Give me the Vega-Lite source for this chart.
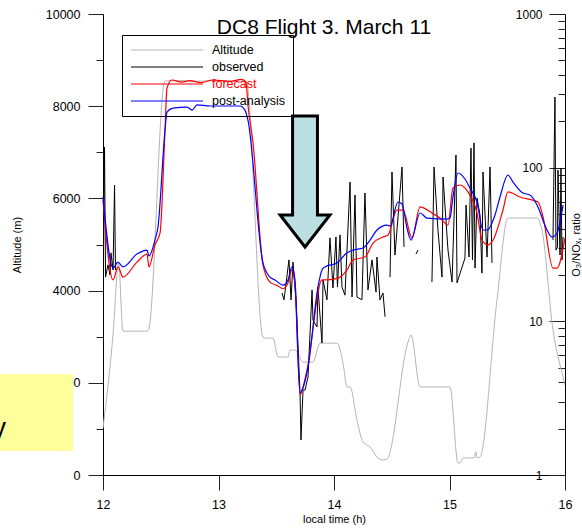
{
  "$schema": "https://vega.github.io/schema/vega-lite/v6.json",
  "width": 462,
  "height": 461,
  "autosize": {"type": "none"},
  "padding": {"left": 103, "top": 14, "right": 17, "bottom": 53},
  "config": {
    "view": {"stroke": null},
    "font": "Liberation Sans",
    "axis": {"domainColor": "black", "tickColor": "#222", "labelColor": "black", "titleColor": "black", "labelFontSize": 12.5, "titleFontSize": 11, "titleFontWeight": "normal", "grid": false, "labelFont": "Liberation Sans", "titleFont": "Liberation Sans"}
  },
  "title": {"text": "DC8 Flight 3. March 11", "fontSize": 21, "fontWeight": "normal", "color": "black", "font": "Liberation Sans", "anchor": "middle", "dx": -10, "offset": -47, "baseline": "alphabetic"},
  "datasets": {
    "box": [{"t1": 10.5, "t2": 11.74, "a1": 521, "a2": 2191}],
    "note": [{"t": 11.160, "a": 824, "txt": "y"}],
    "arrow": [{"t": 13.749, "a": 6367}],
    "alt": [
      {"t": 12.000, "alt": 1020, "series": "Altitude"},
      {"t": 12.087, "alt": 3050, "series": "Altitude"},
      {"t": 12.135, "alt": 4600, "series": "Altitude"},
      {"t": 12.173, "alt": 3120, "series": "Altitude"},
      {"t": 12.381, "alt": 3120, "series": "Altitude"},
      {"t": 12.395, "alt": 3150, "series": "Altitude"},
      {"t": 12.535, "alt": 8546, "series": "Altitude"},
      {"t": 12.65, "alt": 8560, "series": "Altitude"},
      {"t": 12.80, "alt": 8540, "series": "Altitude"},
      {"t": 12.95, "alt": 8555, "series": "Altitude"},
      {"t": 13.10, "alt": 8545, "series": "Altitude"},
      {"t": 13.240, "alt": 8546, "series": "Altitude"},
      {"t": 13.385, "alt": 2990, "series": "Altitude"},
      {"t": 13.411, "alt": 2970, "series": "Altitude"},
      {"t": 13.472, "alt": 2970, "series": "Altitude"},
      {"t": 13.515, "alt": 2560, "series": "Altitude"},
      {"t": 13.602, "alt": 2560, "series": "Altitude"},
      {"t": 13.619, "alt": 2710, "series": "Altitude"},
      {"t": 13.662, "alt": 2710, "series": "Altitude"},
      {"t": 13.732, "alt": 2450, "series": "Altitude"},
      {"t": 13.818, "alt": 2450, "series": "Altitude"},
      {"t": 13.879, "alt": 2860, "series": "Altitude"},
      {"t": 14.026, "alt": 2860, "series": "Altitude"},
      {"t": 14.078, "alt": 2430, "series": "Altitude"},
      {"t": 14.113, "alt": 1910, "series": "Altitude"},
      {"t": 14.139, "alt": 1910, "series": "Altitude"},
      {"t": 14.199, "alt": 1190, "series": "Altitude"},
      {"t": 14.251, "alt": 716, "series": "Altitude"},
      {"t": 14.312, "alt": 607, "series": "Altitude"},
      {"t": 14.381, "alt": 369, "series": "Altitude"},
      {"t": 14.424, "alt": 325, "series": "Altitude"},
      {"t": 14.459, "alt": 347, "series": "Altitude"},
      {"t": 14.641, "alt": 2885, "series": "Altitude"},
      {"t": 14.667, "alt": 3037, "series": "Altitude"},
      {"t": 14.745, "alt": 1910, "series": "Altitude"},
      {"t": 15.004, "alt": 1910, "series": "Altitude"},
      {"t": 15.074, "alt": 260, "series": "Altitude"},
      {"t": 15.091, "alt": 260, "series": "Altitude"},
      {"t": 15.117, "alt": 370, "series": "Altitude"},
      {"t": 15.212, "alt": 370, "series": "Altitude"},
      {"t": 15.229, "alt": 500, "series": "Altitude"},
      {"t": 15.238, "alt": 370, "series": "Altitude"},
      {"t": 15.264, "alt": 390, "series": "Altitude"},
      {"t": 15.411, "alt": 3796, "series": "Altitude"},
      {"t": 15.506, "alt": 5574, "series": "Altitude"},
      {"t": 15.758, "alt": 5574, "series": "Altitude"},
      {"t": 15.801, "alt": 5314, "series": "Altitude"},
      {"t": 15.896, "alt": 3145, "series": "Altitude"},
      {"t": 15.983, "alt": 2126, "series": "Altitude"},
      {"t": 16.0, "alt": 1950, "series": "Altitude"}
    ],
    "obs": [
      {"t": 12.004, "r": 29.1, "seg": "a", "series": "observed"},
      {"t": 12.013, "r": 136, "seg": "a", "series": "observed"},
      {"t": 12.022, "r": 19.4, "seg": "a", "series": "observed"},
      {"t": 12.043, "r": 23.3, "seg": "a", "series": "observed"},
      {"t": 12.061, "r": 20.0, "seg": "a", "series": "observed"},
      {"t": 12.069, "r": 27.9, "seg": "a", "series": "observed"},
      {"t": 12.087, "r": 21.6, "seg": "a", "series": "observed"},
      {"t": 12.100, "r": 77.1, "seg": "a", "series": "observed"},
      {"t": 12.108, "r": 21.6, "seg": "a", "series": "observed"},
      {"t": 13.550, "r": 15.3, "seg": "b", "series": "observed"},
      {"t": 13.567, "r": 13.8, "seg": "b", "series": "observed"},
      {"t": 13.610, "r": 25.1, "seg": "b", "series": "observed"},
      {"t": 13.628, "r": 13.8, "seg": "b", "series": "observed"},
      {"t": 13.645, "r": 24.3, "seg": "b", "series": "observed"},
      {"t": 13.671, "r": 13.8, "seg": "b", "series": "observed"},
      {"t": 13.706, "r": 3.42, "seg": "b", "series": "observed"},
      {"t": 13.714, "r": 1.69, "seg": "b", "series": "observed"},
      {"t": 13.732, "r": 3.57, "seg": "b", "series": "observed"},
      {"t": 13.749, "r": 3.57, "seg": "b", "series": "observed"},
      {"t": 13.775, "r": 4.34, "seg": "b", "series": "observed"},
      {"t": 13.810, "r": 16.0, "seg": "b", "series": "observed"},
      {"t": 13.818, "r": 10.2, "seg": "b", "series": "observed"},
      {"t": 13.853, "r": 9.19, "seg": "b", "series": "observed"},
      {"t": 13.861, "r": 16.7, "seg": "b", "series": "observed"},
      {"t": 13.896, "r": 7.23, "seg": "b", "series": "observed"},
      {"t": 13.905, "r": 18.6, "seg": "b", "series": "observed"},
      {"t": 13.939, "r": 13.8, "seg": "b", "series": "observed"},
      {"t": 13.965, "r": 34.9, "seg": "b", "series": "observed"},
      {"t": 13.991, "r": 16.5, "seg": "b", "series": "observed"},
      {"t": 14.017, "r": 35.4, "seg": "b", "series": "observed"},
      {"t": 14.030, "r": 16.7, "seg": "b", "series": "observed"},
      {"t": 14.052, "r": 36.5, "seg": "b", "series": "observed"},
      {"t": 14.069, "r": 16.7, "seg": "b", "series": "observed"},
      {"t": 14.095, "r": 14.8, "seg": "b", "series": "observed"},
      {"t": 14.139, "r": 80.6, "seg": "b", "series": "observed"},
      {"t": 14.156, "r": 14.4, "seg": "b", "series": "observed"},
      {"t": 14.182, "r": 66.4, "seg": "b", "series": "observed"},
      {"t": 14.199, "r": 14.4, "seg": "b", "series": "observed"},
      {"t": 14.242, "r": 13.8, "seg": "b", "series": "observed"},
      {"t": 14.268, "r": 68.4, "seg": "b", "series": "observed"},
      {"t": 14.294, "r": 16.0, "seg": "b", "series": "observed"},
      {"t": 14.329, "r": 25.1, "seg": "b", "series": "observed"},
      {"t": 14.364, "r": 15.5, "seg": "b", "series": "observed"},
      {"t": 14.372, "r": 26.2, "seg": "b", "series": "observed"},
      {"t": 14.398, "r": 13.8, "seg": "b", "series": "observed"},
      {"t": 14.424, "r": 15.3, "seg": "b", "series": "observed"},
      {"t": 14.442, "r": 10.7, "seg": "b", "series": "observed"},
      {"t": 14.485, "r": 19.4, "seg": "c", "series": "observed"},
      {"t": 14.502, "r": 93.7, "seg": "c", "series": "observed"},
      {"t": 14.528, "r": 27.0, "seg": "c", "series": "observed"},
      {"t": 14.589, "r": 101, "seg": "c", "series": "observed"},
      {"t": 14.606, "r": 30.5, "seg": "c", "series": "observed"},
      {"t": 14.710, "r": 27.4, "seg": "d", "series": "observed"},
      {"t": 14.727, "r": 29.1, "seg": "d", "series": "observed"},
      {"t": 14.848, "r": 18.0, "seg": "e", "series": "observed"},
      {"t": 14.866, "r": 101, "seg": "e", "series": "observed"},
      {"t": 14.900, "r": 39.3, "seg": "e", "series": "observed"},
      {"t": 14.935, "r": 19.4, "seg": "e", "series": "observed"},
      {"t": 14.944, "r": 86.9, "seg": "e", "series": "observed"},
      {"t": 14.987, "r": 29.1, "seg": "e", "series": "observed"},
      {"t": 15.022, "r": 18.0, "seg": "e", "series": "observed"},
      {"t": 15.056, "r": 121, "seg": "e", "series": "observed"},
      {"t": 15.065, "r": 17.8, "seg": "e", "series": "observed"},
      {"t": 15.134, "r": 25.8, "seg": "e", "series": "observed"},
      {"t": 15.143, "r": 57.1, "seg": "e", "series": "observed"},
      {"t": 15.169, "r": 26.2, "seg": "e", "series": "observed"},
      {"t": 15.186, "r": 134, "seg": "e", "series": "observed"},
      {"t": 15.199, "r": 25.1, "seg": "e", "series": "observed"},
      {"t": 15.212, "r": 145, "seg": "e", "series": "observed"},
      {"t": 15.221, "r": 22.2, "seg": "e", "series": "observed"},
      {"t": 15.238, "r": 63.5, "seg": "e", "series": "observed"},
      {"t": 15.264, "r": 49.2, "seg": "e", "series": "observed"},
      {"t": 15.281, "r": 20.6, "seg": "e", "series": "observed"},
      {"t": 15.290, "r": 93.7, "seg": "e", "series": "observed"},
      {"t": 15.325, "r": 26.2, "seg": "e", "series": "observed"},
      {"t": 15.351, "r": 101, "seg": "e", "series": "observed"},
      {"t": 15.368, "r": 24.0, "seg": "e", "series": "observed"},
      {"t": 15.896, "r": 33.8, "seg": "f", "series": "observed"},
      {"t": 15.913, "r": 288, "seg": "f", "series": "observed"},
      {"t": 15.922, "r": 29.1, "seg": "f", "series": "observed"},
      {"t": 15.935, "r": 30.5, "seg": "f", "series": "observed"},
      {"t": 15.939, "r": 96.6, "seg": "f", "series": "observed"},
      {"t": 15.957, "r": 27.0, "seg": "f", "series": "observed"},
      {"t": 15.965, "r": 99.5, "seg": "f", "series": "observed"},
      {"t": 15.974, "r": 25.1, "seg": "f", "series": "observed"},
      {"t": 15.983, "r": 35.4, "seg": "f", "series": "observed"}
    ],
    "fc": [
      {"t": 12.000, "r": 61.6, "series": "forecast"},
      {"t": 12.087, "r": 18.6, "series": "forecast"},
      {"t": 12.130, "r": 22.6, "series": "forecast"},
      {"t": 12.173, "r": 19.4, "series": "forecast"},
      {"t": 12.294, "r": 24.3, "series": "forecast"},
      {"t": 12.381, "r": 27.4, "series": "forecast"},
      {"t": 12.398, "r": 22.6, "series": "forecast"},
      {"t": 12.450, "r": 31.4, "series": "forecast"},
      {"t": 12.494, "r": 37.6, "series": "forecast"},
      {"t": 12.537, "r": 176, "series": "forecast"},
      {"t": 12.554, "r": 330, "series": "forecast"},
      {"t": 12.597, "r": 372, "series": "forecast"},
      {"t": 12.68, "r": 360, "series": "forecast"},
      {"t": 12.75, "r": 368, "series": "forecast"},
      {"t": 12.85, "r": 358, "series": "forecast"},
      {"t": 12.95, "r": 372, "series": "forecast"},
      {"t": 13.10, "r": 365, "series": "forecast"},
      {"t": 13.20, "r": 375, "series": "forecast"},
      {"t": 13.238, "r": 360, "series": "forecast"},
      {"t": 13.255, "r": 256, "series": "forecast"},
      {"t": 13.299, "r": 145, "series": "forecast"},
      {"t": 13.385, "r": 23.3, "series": "forecast"},
      {"t": 13.446, "r": 18.0, "series": "forecast"},
      {"t": 13.515, "r": 17.0, "series": "forecast"},
      {"t": 13.558, "r": 16.3, "series": "forecast"},
      {"t": 13.602, "r": 17.8, "series": "forecast"},
      {"t": 13.636, "r": 21.6, "series": "forecast"},
      {"t": 13.662, "r": 17.2, "series": "forecast"},
      {"t": 13.706, "r": 3.32, "series": "forecast"},
      {"t": 13.766, "r": 4.82, "series": "forecast"},
      {"t": 13.896, "r": 18.6, "series": "forecast"},
      {"t": 13.939, "r": 18.6, "series": "forecast"},
      {"t": 14.035, "r": 19.1, "series": "forecast"},
      {"t": 14.113, "r": 21.6, "series": "forecast"},
      {"t": 14.165, "r": 25.1, "series": "forecast"},
      {"t": 14.268, "r": 26.2, "series": "forecast"},
      {"t": 14.338, "r": 32.3, "series": "forecast"},
      {"t": 14.424, "r": 35.4, "series": "forecast"},
      {"t": 14.468, "r": 36.5, "series": "forecast"},
      {"t": 14.545, "r": 53.0, "series": "forecast"},
      {"t": 14.597, "r": 53.0, "series": "forecast"},
      {"t": 14.675, "r": 34.9, "series": "forecast"},
      {"t": 14.745, "r": 55.5, "series": "forecast"},
      {"t": 14.848, "r": 50.7, "series": "forecast"},
      {"t": 14.918, "r": 47.0, "series": "forecast"},
      {"t": 14.987, "r": 42.3, "series": "forecast"},
      {"t": 15.030, "r": 73.7, "series": "forecast"},
      {"t": 15.091, "r": 77.1, "series": "forecast"},
      {"t": 15.160, "r": 69.5, "series": "forecast"},
      {"t": 15.238, "r": 50.7, "series": "forecast"},
      {"t": 15.281, "r": 33.8, "series": "forecast"},
      {"t": 15.333, "r": 31.4, "series": "forecast"},
      {"t": 15.377, "r": 33.8, "series": "forecast"},
      {"t": 15.463, "r": 53.0, "series": "forecast"},
      {"t": 15.506, "r": 69.5, "series": "forecast"},
      {"t": 15.610, "r": 64.4, "series": "forecast"},
      {"t": 15.766, "r": 59.8, "series": "forecast"},
      {"t": 15.810, "r": 47.8, "series": "forecast"},
      {"t": 15.896, "r": 22.2, "series": "forecast"},
      {"t": 15.931, "r": 22.2, "series": "forecast"},
      {"t": 16.0, "r": 34.9, "series": "forecast"}
    ],
    "pa": [
      {"t": 12.000, "r": 64.4, "series": "post-analysis"},
      {"t": 12.087, "r": 22.2, "series": "post-analysis"},
      {"t": 12.130, "r": 24.3, "series": "post-analysis"},
      {"t": 12.173, "r": 22.6, "series": "post-analysis"},
      {"t": 12.294, "r": 27.4, "series": "post-analysis"},
      {"t": 12.381, "r": 29.1, "series": "post-analysis"},
      {"t": 12.398, "r": 26.6, "series": "post-analysis"},
      {"t": 12.450, "r": 33.8, "series": "post-analysis"},
      {"t": 12.476, "r": 41.1, "series": "post-analysis"},
      {"t": 12.537, "r": 176, "series": "post-analysis"},
      {"t": 12.554, "r": 230, "series": "post-analysis"},
      {"t": 12.606, "r": 244, "series": "post-analysis"},
      {"t": 12.727, "r": 248, "series": "post-analysis"},
      {"t": 12.771, "r": 237, "series": "post-analysis"},
      {"t": 12.814, "r": 256, "series": "post-analysis"},
      {"t": 12.926, "r": 252, "series": "post-analysis"},
      {"t": 13.186, "r": 252, "series": "post-analysis"},
      {"t": 13.229, "r": 237, "series": "post-analysis"},
      {"t": 13.255, "r": 204, "series": "post-analysis"},
      {"t": 13.385, "r": 24.0, "series": "post-analysis"},
      {"t": 13.446, "r": 19.4, "series": "post-analysis"},
      {"t": 13.489, "r": 18.6, "series": "post-analysis"},
      {"t": 13.558, "r": 17.2, "series": "post-analysis"},
      {"t": 13.602, "r": 18.6, "series": "post-analysis"},
      {"t": 13.636, "r": 22.6, "series": "post-analysis"},
      {"t": 13.662, "r": 18.6, "series": "post-analysis"},
      {"t": 13.706, "r": 3.42, "series": "post-analysis"},
      {"t": 13.723, "r": 3.57, "series": "post-analysis"},
      {"t": 13.775, "r": 5.04, "series": "post-analysis"},
      {"t": 13.861, "r": 16.7, "series": "post-analysis"},
      {"t": 13.896, "r": 21.6, "series": "post-analysis"},
      {"t": 13.922, "r": 22.6, "series": "post-analysis"},
      {"t": 14.026, "r": 24.0, "series": "post-analysis"},
      {"t": 14.113, "r": 27.9, "series": "post-analysis"},
      {"t": 14.165, "r": 29.1, "series": "post-analysis"},
      {"t": 14.251, "r": 30.0, "series": "post-analysis"},
      {"t": 14.312, "r": 33.8, "series": "post-analysis"},
      {"t": 14.372, "r": 39.3, "series": "post-analysis"},
      {"t": 14.459, "r": 42.3, "series": "post-analysis"},
      {"t": 14.485, "r": 41.7, "series": "post-analysis"},
      {"t": 14.554, "r": 59.8, "series": "post-analysis"},
      {"t": 14.589, "r": 58.0, "series": "post-analysis"},
      {"t": 14.632, "r": 40.5, "series": "post-analysis"},
      {"t": 14.667, "r": 33.8, "series": "post-analysis"},
      {"t": 14.745, "r": 50.7, "series": "post-analysis"},
      {"t": 14.805, "r": 47.0, "series": "post-analysis"},
      {"t": 14.978, "r": 46.3, "series": "post-analysis"},
      {"t": 15.004, "r": 47.0, "series": "post-analysis"},
      {"t": 15.030, "r": 64.4, "series": "post-analysis"},
      {"t": 15.074, "r": 92.3, "series": "post-analysis"},
      {"t": 15.134, "r": 84.4, "series": "post-analysis"},
      {"t": 15.177, "r": 73.7, "series": "post-analysis"},
      {"t": 15.238, "r": 59.8, "series": "post-analysis"},
      {"t": 15.290, "r": 39.3, "series": "post-analysis"},
      {"t": 15.325, "r": 39.3, "series": "post-analysis"},
      {"t": 15.394, "r": 49.2, "series": "post-analysis"},
      {"t": 15.437, "r": 64.4, "series": "post-analysis"},
      {"t": 15.506, "r": 89.6, "series": "post-analysis"},
      {"t": 15.550, "r": 80.6, "series": "post-analysis"},
      {"t": 15.636, "r": 68.4, "series": "post-analysis"},
      {"t": 15.697, "r": 66.4, "series": "post-analysis"},
      {"t": 15.758, "r": 57.1, "series": "post-analysis"},
      {"t": 15.844, "r": 39.3, "series": "post-analysis"},
      {"t": 15.887, "r": 35.4, "series": "post-analysis"},
      {"t": 15.931, "r": 37.6, "series": "post-analysis"},
      {"t": 15.983, "r": 57.1, "series": "post-analysis"}
    ]
  },
  "layer": [
    {
      "layer": [
        {
          "data": {"name": "alt"},
          "mark": {"type": "line", "strokeWidth": 1, "clip": true, "interpolate": "monotone"},
          "encoding": {
            "x": {"field": "t", "type": "quantitative", "scale": {"domain": [12, 16], "zero": false, "nice": false},
              "axis": {"title": "local time (h)", "values": [12, 12.5, 13, 13.5, 14, 14.5, 15, 15.5, 16], "format": "d", "labelExpr": "datum.value % 1 === 0 ? datum.label : ''",
                "tickSize": {"condition": {"test": "datum.value % 1 === 0", "value": 15}, "value": 7}, "labelPadding": 8, "labelFlush": false,
                "titleY": 44, "titleBaseline": "middle"}},
            "y": {"field": "alt", "type": "quantitative", "scale": {"domain": [0, 10000], "nice": false},
              "axis": {"title": "Altitude (m)", "orient": "left", "values": [0, 1000, 2000, 3000, 4000, 5000, 6000, 7000, 8000, 9000, 10000], "format": "d",
                "labelExpr": "datum.value % 2000 === 0 ? datum.label : ''",
                "tickSize": {"condition": {"test": "datum.value % 2000 === 0", "value": 15}, "value": 7}, "labelPadding": 8,
                "titleX": -86, "titleY": 230.5, "titleAngle": 270, "titleBaseline": "middle", "titleAlign": "center"}},
            "color": {"field": "series", "type": "nominal",
              "scale": {"domain": ["Altitude", "observed", "forecast", "post-analysis"], "range": ["#b5b5b5", "#000000", "#ff0000", "#0000ff"]},
              "legend": {"orient": "none", "legendX": 19, "legendY": 21, "title": null, "symbolType": "M-6,0H6", "symbolSize": 144, "symbolStrokeWidth": 1.2, "symbolOffset": 30,
                "labelFontSize": 12.5, "labelFont": "Liberation Sans", "strokeColor": "black", "padding": 8, "rowPadding": 3, "labelOffset": 38,
                "encode": {"labels": {"update": {"fill": {"signal": "datum.value === 'forecast' ? '#ff0000' : '#000000'"}}}}}}
          }
        },
        {
          "data": {"name": "box"},
          "mark": {"type": "rect", "fill": "#ffff9c"},
          "encoding": {
            "x": {"field": "t1", "type": "quantitative"},
            "x2": {"field": "t2"},
            "y": {"field": "a1", "type": "quantitative"},
            "y2": {"field": "a2"}
          }
        },
        {
          "data": {"name": "note"},
          "mark": {"type": "text", "align": "right", "baseline": "alphabetic", "fontSize": 27, "font": "Liberation Sans", "color": "black"},
          "encoding": {
            "x": {"field": "t", "type": "quantitative"},
            "y": {"field": "a", "type": "quantitative"},
            "text": {"field": "txt"}
          }
        },
        {
          "data": {"name": "arrow"},
          "mark": {"type": "point", "shape": "M-0.19,-1L0.19,-1L0.19,0.51L0.38,0.51L0,1L-0.38,0.51L-0.19,0.51Z", "size": 17161, "filled": true, "fill": "#bcdfe3", "stroke": "#000000", "strokeWidth": 3, "opacity": 1, "strokeJoin": "miter"},
          "encoding": {
            "x": {"field": "t", "type": "quantitative"},
            "y": {"field": "a", "type": "quantitative"}
          }
        }
      ]
    },
    {
      "layer": [
        {
          "data": {"name": "obs"},
          "mark": {"type": "line", "strokeWidth": 1},
          "encoding": {
            "x": {"field": "t", "type": "quantitative"},
            "y": {"field": "r", "type": "quantitative", "scale": {"type": "log", "domain": [1, 1000], "nice": false},
              "axis": {"title": "O₃/NOₓ, ratio", "orient": "right", "values": [1, 2, 3, 4, 5, 6, 7, 8, 9, 10, 20, 30, 40, 50, 60, 70, 80, 90, 100, 200, 300, 400, 500, 600, 700, 800, 900, 1000],
                "format": "d", "labelExpr": "datum.value === 1 || datum.value === 10 || datum.value === 100 || datum.value === 1000 ? datum.label : ''",
                "tickSize": {"condition": {"test": "datum.value === 1 || datum.value === 10 || datum.value === 100 || datum.value === 1000", "value": -16}, "value": -7},
                "labelAlign": "right", "labelPadding": -7, "labelFontSize": 12,
                "titleX": 11, "titleY": 230.5, "titleAngle": 270, "titleBaseline": "middle", "titleAlign": "center"}},
            "color": {"field": "series", "type": "nominal"},
            "detail": {"field": "seg"}
          }
        },
        {
          "data": {"name": "fc"},
          "mark": {"type": "line", "strokeWidth": 1.2, "interpolate": "monotone"},
          "encoding": {
            "x": {"field": "t", "type": "quantitative"},
            "y": {"field": "r", "type": "quantitative"},
            "color": {"field": "series", "type": "nominal"}
          }
        },
        {
          "data": {"name": "pa"},
          "mark": {"type": "line", "strokeWidth": 1.2, "interpolate": "monotone"},
          "encoding": {
            "x": {"field": "t", "type": "quantitative"},
            "y": {"field": "r", "type": "quantitative"},
            "color": {"field": "series", "type": "nominal"}
          }
        }
      ]
    }
  ],
  "resolve": {"scale": {"y": "independent"}}
}
